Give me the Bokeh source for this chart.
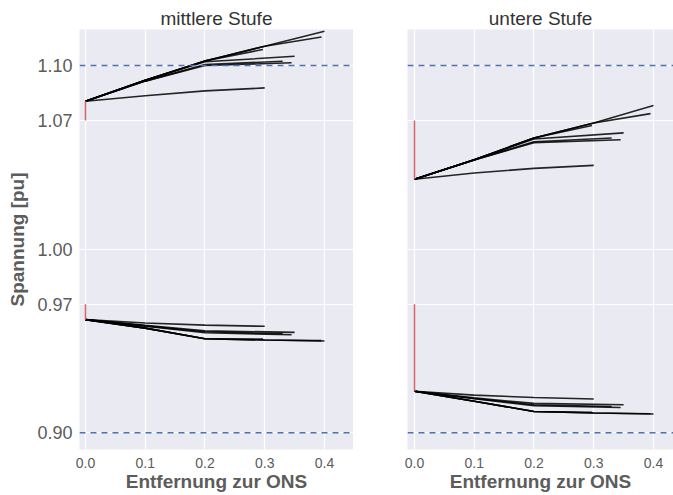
from bokeh.plotting import figure
from bokeh.layouts import row
from bokeh.models import FixedTicker, Span, Range1d, PrintfTickFormatter
from bokeh.embed import file_html
from bokeh.resources import INLINE

# ---- data ----
titles = ["mittlere Stufe", "untere Stufe"]
x_ticks = [0.0, 0.1, 0.2, 0.3, 0.4]
y_ticks = [0.90, 0.97, 1.00, 1.07, 1.10]
limit_upper = 1.10
limit_lower = 0.90

# distances of each feeder's buses to the ONS
feeder_1 = [0.0, 0.1, 0.2, 0.3]
feeder_2 = [0.0, 0.1, 0.2, 0.3, 0.4]
feeder_3 = [0.0, 0.1, 0.2, 0.3, 0.395]
feeder_4 = [0.0, 0.1, 0.2, 0.35]
feeder_5 = [0.0, 0.1, 0.2, 0.345]
feeder_6 = [0.0, 0.1, 0.2, 0.33]
feeder_7 = [0.0, 0.1, 0.2, 0.297]
feeder_x = [feeder_1, feeder_2, feeder_3, feeder_4, feeder_5, feeder_6, feeder_7]

# mittlere Stufe: maximum voltages per feeder
mid_max = [
    [1.0805, 1.0835, 1.0862, 1.0878],
    [1.0805, 1.0920, 1.1025, 1.1105, 1.1187],
    [1.0805, 1.0920, 1.1025, 1.1105, 1.1155],
    [1.0805, 1.0920, 1.1020, 1.1050],
    [1.0805, 1.0915, 1.1000, 1.1015],
    [1.0805, 1.0915, 1.1005, 1.1023],
    [1.0805, 1.0920, 1.1025, 1.1087],
]
# mittlere Stufe: minimum voltages per feeder
mid_min = [
    [0.9616, 0.9598, 0.9586, 0.9580],
    [0.9616, 0.9570, 0.9512, 0.9505, 0.9500],
    [0.9616, 0.9570, 0.9512, 0.9505, 0.9502],
    [0.9616, 0.9585, 0.9555, 0.9547],
    [0.9616, 0.9580, 0.9545, 0.9534],
    [0.9616, 0.9582, 0.9550, 0.9540],
    [0.9616, 0.9570, 0.9512, 0.9510],
]
# untere Stufe: maximum voltages per feeder
low_max = [
    [1.0381, 1.0415, 1.0440, 1.0456],
    [1.0381, 1.0487, 1.0605, 1.0687, 1.0782],
    [1.0381, 1.0487, 1.0605, 1.0687, 1.0738],
    [1.0381, 1.0487, 1.0600, 1.0633],
    [1.0381, 1.0485, 1.0580, 1.0596],
    [1.0381, 1.0485, 1.0585, 1.0605],
    [1.0381, 1.0487, 1.0605, 1.0673],
]
# untere Stufe: minimum voltages per feeder
low_min = [
    [0.9226, 0.9205, 0.9192, 0.9184],
    [0.9226, 0.9172, 0.9116, 0.9108, 0.9102],
    [0.9226, 0.9172, 0.9116, 0.9108, 0.9104],
    [0.9226, 0.9190, 0.9160, 0.9153],
    [0.9226, 0.9185, 0.9148, 0.9138],
    [0.9226, 0.9187, 0.9153, 0.9143],
    [0.9226, 0.9172, 0.9116, 0.9112],
]
# red bands at the ONS (x = 0): [bottom, top]
mid_band_hi = [1.0700, 1.0805]
mid_band_lo = [0.9616, 0.9700]
low_band_hi = [1.0381, 1.0700]
low_band_lo = [0.9226, 0.9700]

TXT = "#5c5c5c"
FONT = "Liberation Sans"


def make_fig(title, x_start, x_end, frame_w, left_border, show_y):
    p = figure(frame_width=frame_w, frame_height=420,
               x_range=Range1d(x_start, x_end), y_range=Range1d(0.8909, 1.1196),
               output_backend="svg", toolbar_location=None, title=title,
               min_border_left=left_border, min_border_right=0,
               min_border_top=29, min_border_bottom=46)
    p.background_fill_color = "#EAEAF2"
    p.border_fill_color = "white"
    p.outline_line_color = None
    p.title.align = "center"
    p.title.text_font = FONT
    p.title.text_font_size = "19px"
    p.title.text_font_style = "normal"
    p.title.text_color = "#333333"
    p.title.standoff = 2

    p.xaxis.ticker = FixedTicker(ticks=x_ticks)
    p.xgrid.ticker = FixedTicker(ticks=x_ticks)
    p.yaxis.ticker = FixedTicker(ticks=y_ticks)
    p.ygrid.ticker = FixedTicker(ticks=y_ticks)
    p.xaxis.formatter = PrintfTickFormatter(format="%.1f")
    p.yaxis.formatter = PrintfTickFormatter(format="%.2f")
    for g in (p.xgrid, p.ygrid):
        g.grid_line_color = "white"
        g.grid_line_width = 1.2
    for ax in (p.xaxis, p.yaxis):
        ax.axis_line_color = None
        ax.major_tick_line_color = None
        ax.minor_tick_line_color = None
        ax.major_label_text_color = TXT
        ax.major_label_text_font = FONT
        ax.axis_label_text_color = TXT
        ax.axis_label_text_font = FONT
        ax.axis_label_text_font_style = "bold"
        ax.axis_label_text_font_size = "19px"
    p.xaxis.major_label_text_font_size = "14px"
    p.xaxis.major_label_standoff = 2
    p.xaxis.axis_label = "Entfernung zur ONS"
    p.xaxis.axis_label_standoff = 0
    p.yaxis.major_label_text_font_size = "18px"
    p.yaxis.major_label_standoff = 1
    if show_y:
        p.yaxis.axis_label = "Spannung [pu]"
        p.yaxis.axis_label_standoff = 6
    else:
        p.yaxis.visible = False

    for val in (limit_upper, limit_lower):
        p.add_layout(Span(location=val, dimension="width", line_color="#4C72B0",
                          line_dash="6 5", line_width=1.5))
    return p


panels = [
    (titles[0], -0.01, 0.4486, 274, 79, True, mid_max, mid_min, mid_band_hi, mid_band_lo),
    (titles[1], -0.0117, 0.4335, 266, 54, False, low_max, low_min, low_band_hi, low_band_lo),
]
figs = []
for (t, xs_, xe_, fw, lb, sy, vmax, vmin, bhi, blo) in panels:
    p = make_fig(t, xs_, xe_, fw, lb, sy)
    p.multi_line(xs=feeder_x + feeder_x, ys=vmax + vmin, line_color="black",
                 line_alpha=0.85, line_width=1.6)
    p.segment(x0=[0, 0], y0=[bhi[0], blo[0]], x1=[0, 0], y1=[bhi[1], blo[1]],
              line_color="#D9636A", line_width=1.5)
    figs.append(p)

layout = row(*figs, spacing=0)
open("out.html", "w").write(file_html(layout, INLINE))
